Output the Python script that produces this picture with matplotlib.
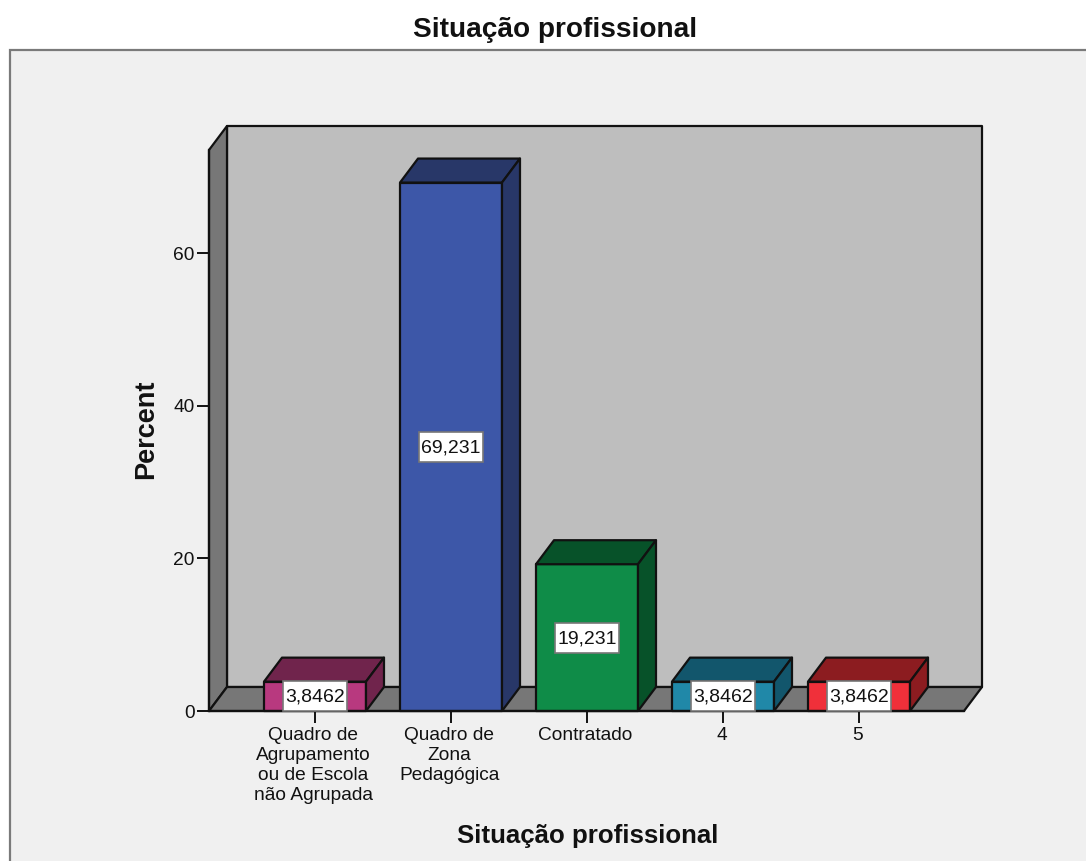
import matplotlib
matplotlib.use('Agg')
import matplotlib.pyplot as plt
from matplotlib.patches import Polygon, Rectangle
from matplotlib.transforms import ScaledTranslation

plt.rcParams['font.family'] = ['Liberation Sans', 'DejaVu Sans']

categories = ['Quadro de\nAgrupamento\nou de Escola\nnão Agrupada', 'Quadro de\nZona\nPedagógica', 'Contratado', '4', '5']
percents = [3.8462, 69.231, 19.231, 3.8462, 3.8462]
labels = ['3,8462', '69,231', '19,231', '3,8462', '3,8462']
front_colors = ['#B8397F', '#3D57A8', '#0F8C48', '#2088A8', '#F0303A']
side_colors = ['#70244C', '#283768', '#075229', '#12566C', '#8C1C20']
y_ticks = [0, 20, 40, 60]

W, H = 1086, 861
fig = plt.figure(figsize=(W / 100, H / 100), dpi=100, facecolor='white')

# grey chart area with frame, open to the right and bottom
bg = fig.add_axes([0, 0, 1, 1], zorder=0)
bg.set_xlim(0, W)
bg.set_ylim(H, 0)
bg.axis('off')
bg.add_patch(Rectangle((10, 50), W, H, facecolor='#F0F0F0', edgecolor='#7A7A7A', lw=1.6))

# plot box in pixels
left, right, bottom, top = 209, 982, 711, 126
ax = fig.add_axes([left / W, 1 - bottom / H, (right - left) / W, (bottom - top) / H], zorder=1)
ax.patch.set_visible(False)
x_scale = 136.0   # px per category
y_scale = 7.633   # px per percent
first = 315
ax.set_xlim((left - first) / x_scale, (right - first) / x_scale)
ax.set_ylim(0, (bottom - top) / y_scale)

dx = 18 / x_scale
dy = 24 / y_scale
bar_w = 102 / x_scale
box_w = 64 / x_scale
box_h = 30 / y_scale
x0, x1 = ax.get_xlim()
y1 = ax.get_ylim()[1]
line = dict(edgecolor='#111111', lw=1.6, joinstyle='round', clip_on=False)

# back wall, left wall, floor
ax.add_patch(Polygon([(x0 + dx, dy), (x1, dy), (x1, y1), (x0 + dx, y1)], facecolor='#BEBEBE', zorder=1, **line))
ax.add_patch(Polygon([(x0, 0), (x0 + dx, dy), (x0 + dx, y1), (x0, y1 - dy)], facecolor='#777777', zorder=1, **line))
ax.add_patch(Polygon([(x0, 0), (x1 - dx, 0), (x1, dy), (x0 + dx, dy)], facecolor='#777777', zorder=1, **line))

for i, (v, fc, sc, lab) in enumerate(zip(percents, front_colors, side_colors, labels)):
    a, b = i - bar_w / 2, i + bar_w / 2
    ax.add_patch(Polygon([(a, 0), (b, 0), (b, v), (a, v)], facecolor=fc, zorder=3, **line))
    ax.add_patch(Polygon([(a, v), (b, v), (b + dx, v + dy), (a + dx, v + dy)], facecolor=sc, zorder=3, **line))
    ax.add_patch(Polygon([(b, 0), (b + dx, dy), (b + dx, v + dy), (b, v)], facecolor=sc, zorder=3, **line))
    ax.add_patch(Rectangle((i - box_w / 2, v / 2 - box_h / 2), box_w, box_h, facecolor='white',
                           edgecolor='#777777', lw=1.2, zorder=7, clip_on=False))
    ax.text(i, v / 2 - 1 / y_scale, lab, ha='center', va='center', fontsize=14, color='#111111', zorder=8)

for s in ['top', 'right']:
    ax.spines[s].set_visible(False)
ax.spines['left'].set_bounds(0, y1 - dy)
ax.spines['bottom'].set_bounds(x0, x1 - dx)
for s in ['left', 'bottom']:
    ax.spines[s].set_linewidth(1.6)
    ax.spines[s].set_color('#111111')
    ax.spines[s].set_zorder(6)

ax.set_yticks(y_ticks)
ax.set_xticks(range(len(categories)))
ax.set_xticklabels(categories, linespacing=1.22)
ax.tick_params(axis='y', length=8.5, width=1.4, labelsize=13.8, pad=2, colors='#111111')
ax.tick_params(axis='x', length=8.5, width=1.4, labelsize=13.8, pad=3, colors='#111111')
# labels sit slightly left of their ticks in the original
shift = ScaledTranslation(-1.5 / 100, 0, fig.dpi_scale_trans)
for t in ax.get_xticklabels():
    t.set_transform(t.get_transform() + shift)

fig.text(555 / W, 1 - 30 / H, 'Situação profissional', ha='center', va='center',
         fontsize=20.2, fontweight='bold', color='#111111')
fig.text(588 / W, 1 - 836 / H, 'Situação profissional', ha='center', va='center',
         fontsize=18.6, fontweight='bold', color='#111111')
fig.text(146 / W, 1 - 429 / H, 'Percent', rotation=90, ha='center', va='center',
         fontsize=19.5, fontweight='bold', color='#111111')

fig.savefig('out.png', dpi=100)
plt.close(fig)
